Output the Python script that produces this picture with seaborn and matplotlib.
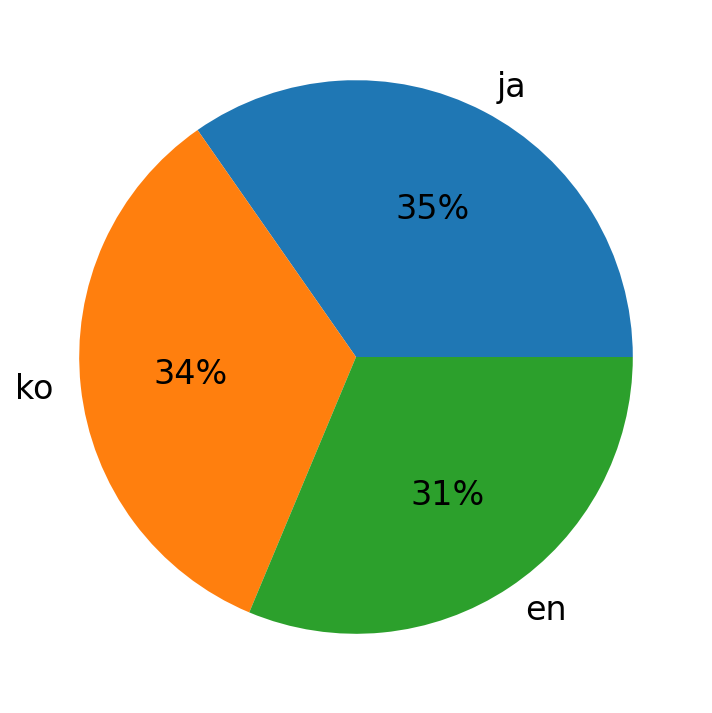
import matplotlib
matplotlib.use('Agg')
import matplotlib.pyplot as plt
import seaborn as sns

# Language share data
languages = ['ja', 'ko', 'en']
shares = [34.7, 34.0, 31.3]

colors = sns.color_palette('tab10', 3)

fig = plt.figure(figsize=(7.12, 7.13), dpi=100)
ax = fig.add_axes([10 / 712, 10 / 713, 692 / 712, 692 / 713])
ax.pie(shares, labels=languages, colors=colors, autopct='%1.0f%%',
       textprops={'fontsize': 24})
ax.set_xlim(-1.25, 1.25)
ax.set_ylim(-1.25, 1.25)
ax.set_aspect('equal')

fig.savefig('out.png', dpi=100)
